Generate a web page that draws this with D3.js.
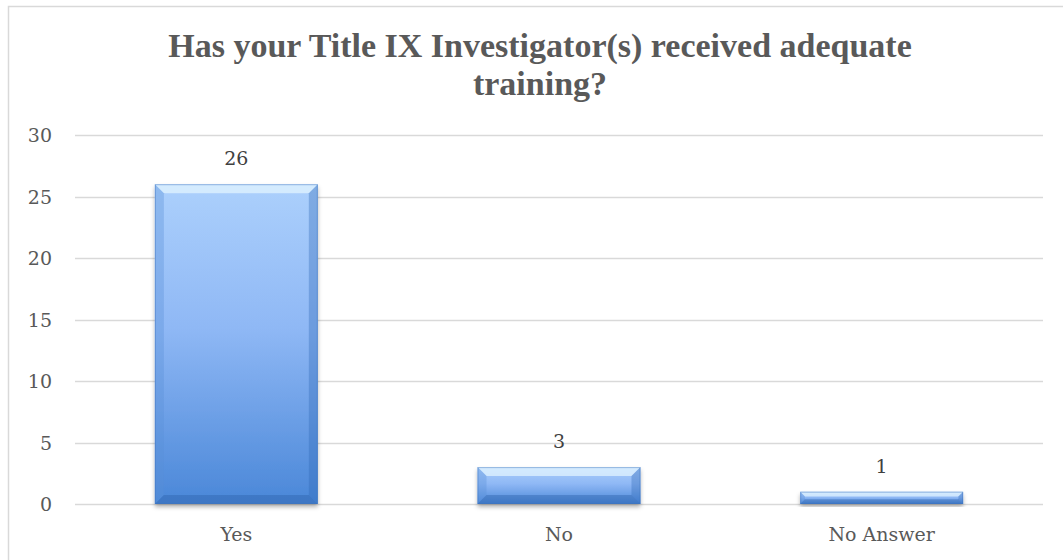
<!DOCTYPE html>
<html><head><meta charset="utf-8">
<script src="https://cdn.jsdelivr.net/npm/d3@7"></script>
<style>body{margin:0;background:#fff}svg{display:block}</style>
</head><body>
<svg id="c" width="1063" height="560"></svg>
<script>
const categories = ["Yes", "No", "No Answer"];
const values = [26, 3, 1];
const yTicks = [0, 5, 10, 15, 20, 25, 30];
const titleLines = ["Has your Title IX Investigator(s) received adequate", "training?"];

const svg = d3.select("#c");
const font = "'DejaVu Serif', 'Liberation Serif', serif";
const titleFont = "'Liberation Serif', 'DejaVu Serif', serif";
const grey = "#595959";

// chart border
svg.append("rect").attr("x", 8.5).attr("y", 6.5).attr("width", 1060).attr("height", 560)
  .attr("fill", "#fff").attr("stroke", "#d9d9d9").attr("stroke-width", 1.5);

const m = {left: 75, right: 1043, top: 135, bottom: 504};
const x = d3.scaleBand().domain(categories).range([m.left, m.right]).paddingInner(0.495).paddingOuter(0.2475);
const y = d3.scaleLinear().domain([0, 30]).range([m.bottom, m.top]);

const defs = svg.append("defs");
const grad = defs.append("linearGradient").attr("id", "barGrad").attr("x1", 0).attr("y1", 0).attr("x2", 0).attr("y2", 1);
grad.append("stop").attr("offset", 0).attr("stop-color", "#acd0fc");
grad.append("stop").attr("offset", 0.45).attr("stop-color", "#8fb8f5");
grad.append("stop").attr("offset", 1).attr("stop-color", "#4a87d8");
const f = defs.append("filter").attr("id", "sh").attr("x", -0.1).attr("y", -0.1).attr("width", 1.2).attr("height", 1.3);
f.append("feDropShadow").attr("dx", 0).attr("dy", 3).attr("stdDeviation", 2).attr("flood-color", "#000").attr("flood-opacity", 0.3);

// gridlines
svg.append("g").selectAll("line").data(yTicks).join("line")
  .attr("x1", m.left).attr("x2", m.right)
  .attr("y1", d => Math.round(y(d)) + 0.5).attr("y2", d => Math.round(y(d)) + 0.5)
  .attr("stroke", "#d9d9d9").attr("stroke-width", 1.3);

// y axis labels
const yAxis = d3.axisLeft(y).tickValues(yTicks).tickSize(0).tickPadding(0);
const ya = svg.append("g").attr("transform", `translate(${52},0)`).call(yAxis);
ya.select(".domain").remove();
ya.selectAll("text").attr("font-family", font).attr("font-size", 19).attr("fill", grey).attr("dy", "0.35em");

// x axis labels
const xAxis = d3.axisBottom(x).tickSize(0).tickPadding(0);
const xa = svg.append("g").attr("transform", `translate(0,${527})`).call(xAxis);
xa.select(".domain").remove();
xa.selectAll("text").attr("font-family", font).attr("font-size", 19).attr("fill", grey).attr("dy", "0.75em");

// bars
const bars = svg.append("g").selectAll("g").data(values).join("g");
bars.each(function(v, i) {
  const g = d3.select(this);
  const bx = x(categories[i]), bw = x.bandwidth();
  const by = y(v), bh = y(0) - y(v);
  g.append("rect").attr("x", bx).attr("y", by).attr("width", bw).attr("height", bh)
    .attr("fill", "url(#barGrad)").attr("filter", "url(#sh)");
  const b = Math.min(9, bh / 2.6);
  const poly = (pts, fill, op) => g.append("polygon").attr("points", pts.map(p => p.join(",")).join(" ")).attr("fill", fill).attr("opacity", op);
  poly([[bx, by], [bx + bw, by], [bx + bw - b, by + b], [bx + b, by + b]], "#e6f6ff", 0.7);
  poly([[bx, by], [bx + b, by + b], [bx + b, by + bh - b], [bx, by + bh]], "#5a8fd6", 0.35);
  poly([[bx + bw, by], [bx + bw - b, by + b], [bx + bw - b, by + bh - b], [bx + bw, by + bh]], "#2f66b4", 0.35);
  poly([[bx, by + bh], [bx + b, by + bh - b], [bx + bw - b, by + bh - b], [bx + bw, by + bh]], "#2b5fa8", 0.4);
  g.append("rect").attr("x", bx + 0.5).attr("y", by + 0.5).attr("width", bw - 1).attr("height", bh - 1)
    .attr("fill", "none").attr("stroke", "#3f73bd").attr("stroke-opacity", 0.45).attr("stroke-width", 1);
});

// value labels
svg.append("g").selectAll("text").data(values).join("text")
  .attr("x", (d, i) => x(categories[i]) + x.bandwidth() / 2)
  .attr("y", d => y(d) - 19)
  .attr("text-anchor", "middle").attr("font-family", font).attr("font-size", 19).attr("fill", "#404040")
  .text(d => d);

// title
const tl = svg.append("g").selectAll("text").data(titleLines).join("text")
  .attr("x", 540).attr("y", (d, i) => 57 + i * 37.5)
  .attr("text-anchor", "middle").attr("font-family", titleFont).attr("font-weight", "bold")
  .attr("font-size", 26).attr("fill", grey).text(d => d);
const w0 = tl.nodes()[0].getComputedTextLength();
tl.attr("font-size", 26 * 744 / w0);
</script>
</body></html>
